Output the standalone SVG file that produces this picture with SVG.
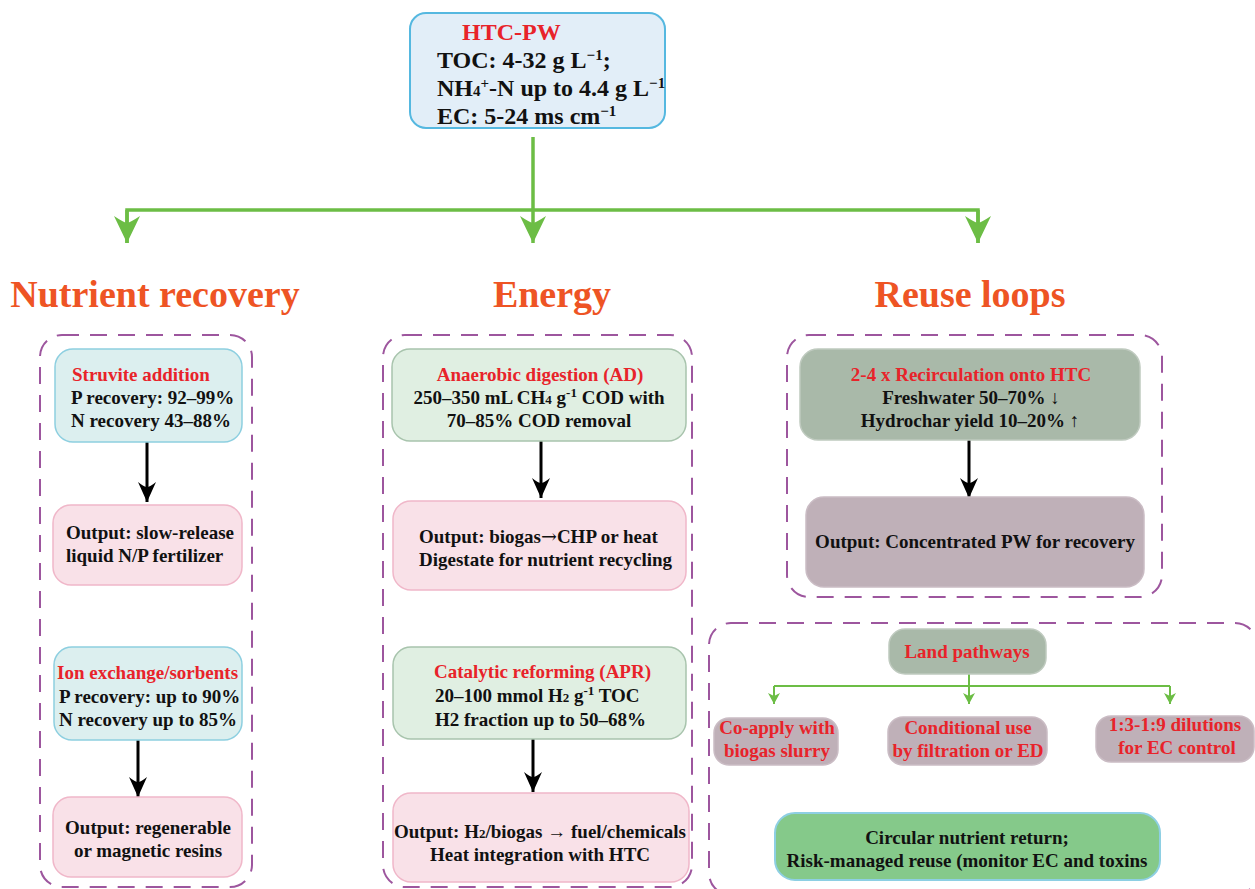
<svg xmlns="http://www.w3.org/2000/svg" width="1255" height="889" viewBox="0 0 1255 889">
<defs>
<style>
.t{font-family:"Liberation Serif","Times New Roman",serif;font-weight:bold;font-size:19px;fill:#111}
.big{font-size:24px}
.r{fill:#e8232a}
.h{font-family:"Liberation Serif","Times New Roman",serif;font-weight:bold;font-size:38px;fill:#ee5424}
.c{text-anchor:middle}
.dash{fill:none;stroke:#9d569e;stroke-width:2;stroke-dasharray:17 11}
.blue{fill:#e2eef8;stroke:#55b8e0;stroke-width:2}
.teal{fill:#dcefef;stroke:#8dcfe0;stroke-width:1.5}
.pink{fill:#f9e1e8;stroke:#f0b7c9;stroke-width:1.5}
.mint{fill:#e0efe2;stroke:#a8c4ad;stroke-width:1.5}
.sage{fill:#a9b9a9;stroke:#bfcabf;stroke-width:1.5}
.mauve{fill:#bfb0b8;stroke:#cabcc4;stroke-width:1.5}
.green{fill:#85c98a;stroke:#8ecfe3;stroke-width:2}
.gl{fill:none;stroke:#6cbd45;stroke-width:3.5}
.gs{fill:none;stroke:#6cbd45;stroke-width:2}
.bl{fill:none;stroke:#000;stroke-width:3}
.s{font-size:13px}
.sb{font-size:15px}
.ar{font-family:"DejaVu Serif",serif;font-weight:normal}
</style>
<marker id="ga" markerUnits="userSpaceOnUse" viewBox="0 -15 30 30" refX="27" refY="0" markerWidth="30" markerHeight="30" orient="auto">
<path d="M27,0 L0,-13 Q6,-4 7,0 Q6,4 0,13 Z" fill="#6cbd45"/>
</marker>
<marker id="ba" markerUnits="userSpaceOnUse" viewBox="0 -10 22 20" refX="20" refY="0" markerWidth="22" markerHeight="20" orient="auto">
<path d="M20,0 L0,-9 Q5,-3 5,0 Q5,3 0,9 Z" fill="#000"/>
</marker>
<marker id="sa" markerUnits="userSpaceOnUse" viewBox="0 -7 12 14" refX="11" refY="0" markerWidth="12" markerHeight="14" orient="auto">
<path d="M11,0 L0,-6 L3,0 L0,6 Z" fill="#6cbd45"/>
</marker>
</defs>
<rect width="1255" height="889" fill="#fff"/>

<g id="connectors">
<path class="gl" d="M533,137 V243" marker-end="url(#ga)"/>
<path class="gl" d="M127,243 V210 H978 V243" />
<path class="gl" d="M127,210 V243" marker-end="url(#ga)"/>
<path class="gl" d="M978,210 V243" marker-end="url(#ga)"/>
<path class="bl" d="M147,442 V502" marker-end="url(#ba)"/>
<path class="bl" d="M138,740 V797" marker-end="url(#ba)"/>
<path class="bl" d="M541,441 V498" marker-end="url(#ba)"/>
<path class="bl" d="M533,739 V792" marker-end="url(#ba)"/>
<path class="bl" d="M969,440 V498" marker-end="url(#ba)"/>
<path class="gs" d="M774,686 H1170"/>
<path class="gs" d="M969,674 V704" marker-end="url(#sa)"/>
<path class="gs" d="M774,686 V704" marker-end="url(#sa)"/>
<path class="gs" d="M1170,686 V704" marker-end="url(#sa)"/>
</g>

<g id="htc-pw">
<rect class="blue" x="410" y="13" width="255" height="115" rx="16"/>
<text class="t big r" x="462" y="40">HTC-PW</text>
<text class="t big" x="437" y="68">TOC: 4-32 g L<tspan class="sb" baseline-shift="super">−1</tspan>;</text>
<text class="t big" x="437" y="96">NH<tspan class="sb">4</tspan><tspan class="sb" baseline-shift="super">+</tspan>-N up to 4.4 g L<tspan class="sb" baseline-shift="super">−1</tspan></text>
<text class="t big" x="437" y="124">EC: 5-24 ms cm<tspan class="sb" baseline-shift="super">−1</tspan></text>
</g>

<g id="headings">
<text class="h c" x="155" y="307">Nutrient recovery</text>
<text class="h c" x="552" y="307">Energy</text>
<text class="h c" x="970" y="307">Reuse loops</text>
</g>

<g id="group-nutrient">
<rect class="dash" x="40" y="335" width="212" height="552" rx="22"/>
</g>
<g id="struvite">
<rect class="teal" x="55" y="349" width="187" height="93" rx="18"/>
<text class="t r" x="72" y="381">Struvite addition</text>
<text class="t" x="71" y="404">P recovery: 92–99%</text>
<text class="t" x="71" y="427">N recovery 43–88%</text>
</g>
<g id="out-fertilizer">
<rect class="pink" x="53" y="505" width="189" height="80" rx="18"/>
<text class="t" x="66" y="539">Output: slow-release</text>
<text class="t" x="66" y="562">liquid N/P fertilizer</text>
</g>
<g id="ion-exchange">
<rect class="teal" x="54" y="647" width="188" height="93" rx="18"/>
<text class="t r" x="57" y="679">Ion exchange/sorbents</text>
<text class="t" x="59" y="703">P recovery: up to 90%</text>
<text class="t" x="59" y="726">N recovery up to 85%</text>
</g>
<g id="out-resins">
<rect class="pink" x="53" y="797" width="189" height="80" rx="18"/>
<text class="t c" x="148" y="834">Output: regenerable</text>
<text class="t c" x="148" y="857">or magnetic resins</text>
</g>

<g id="group-energy">
<rect class="dash" x="383" y="335" width="309" height="552" rx="22"/>
</g>
<g id="ad">
<rect class="mint" x="392" y="349" width="294" height="92" rx="18"/>
<text class="t r c" x="540" y="381">Anaerobic digestion (AD)</text>
<text class="t c" x="539" y="404">250–350 mL CH<tspan class="s">4</tspan> g<tspan class="s" baseline-shift="super">-1</tspan> COD with</text>
<text class="t c" x="539" y="427">70–85% COD removal</text>
</g>
<g id="out-biogas">
<rect class="pink" x="393" y="501" width="293" height="89" rx="18"/>
<text class="t" x="419" y="543">Output: biogas<tspan class="ar">→</tspan>CHP or heat</text>
<text class="t" x="419" y="566">Digestate for nutrient recycling</text>
</g>
<g id="apr">
<rect class="mint" x="393" y="647" width="293" height="92" rx="18"/>
<text class="t r" x="434" y="678">Catalytic reforming (APR)</text>
<text class="t" x="435" y="702">20–100 mmol H<tspan class="s">2</tspan> g<tspan class="s" baseline-shift="super">-1</tspan> TOC</text>
<text class="t" x="435" y="726">H2 fraction up to 50–68%</text>
</g>
<g id="out-fuel">
<rect class="pink" x="393" y="793" width="296" height="89" rx="18"/>
<text class="t c" x="540" y="838">Output: H<tspan class="s">2</tspan>/biogas → fuel/chemicals</text>
<text class="t c" x="540" y="861">Heat integration with HTC</text>
</g>

<g id="group-reuse">
<rect class="dash" x="787" y="335" width="375" height="262" rx="22"/>
</g>
<g id="recirculation">
<rect class="sage" x="800" y="349" width="340" height="91" rx="18"/>
<text class="t r c" x="971" y="381">2-4 x Recirculation onto HTC</text>
<text class="t c" x="971" y="404">Freshwater 50–70% ↓</text>
<text class="t c" x="970" y="427">Hydrochar yield 10–20% ↑</text>
</g>
<g id="out-concentrated">
<rect class="mauve" x="806" y="497" width="338" height="90" rx="18"/>
<text class="t c" x="975" y="548">Output: Concentrated PW for recovery</text>
</g>

<g id="group-land">
<rect class="dash" x="709" y="623" width="548" height="272" rx="22"/>
</g>
<g id="land-pathways">
<rect class="sage" x="889" y="629" width="157" height="45" rx="16"/>
<text class="t r c" x="967" y="658">Land pathways</text>
</g>
<g id="co-apply">
<rect class="mauve" x="714" y="718" width="124" height="47" rx="15"/>
<text class="t r c" x="777" y="734">Co-apply with</text>
<text class="t r c" x="777" y="757">biogas slurry</text>
</g>
<g id="conditional">
<rect class="mauve" x="888" y="717" width="159" height="48" rx="15"/>
<text class="t r c" x="968" y="734">Conditional use</text>
<text class="t r c" x="968" y="757">by filtration or ED</text>
</g>
<g id="dilutions">
<rect class="mauve" x="1096" y="716" width="158" height="46" rx="15"/>
<text class="t r c" x="1175" y="731">1:3-1:9 dilutions</text>
<text class="t r c" x="1177" y="754">for EC control</text>
</g>
<g id="circular">
<rect class="green" x="775" y="813" width="385" height="67" rx="20"/>
<text class="t c" x="967" y="844">Circular nutrient return;</text>
<text class="t c" x="967" y="867">Risk-managed reuse (monitor EC and toxins</text>
</g>
</svg>
